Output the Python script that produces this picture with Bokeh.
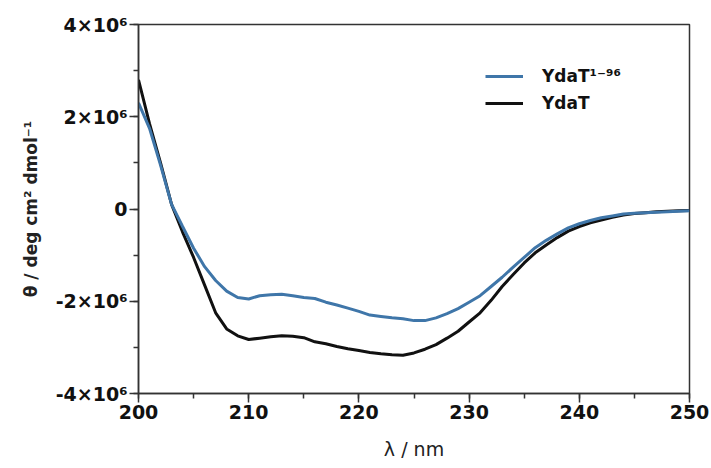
from bokeh.plotting import figure
from bokeh.models import Legend, LegendItem, FixedTicker, Range1d
from bokeh.embed import file_html
from bokeh.resources import INLINE

wavelength = list(range(200, 251))

ydat_1_96 = [2.30, 1.75, 0.95, 0.10, -0.38, -0.85, -1.25, -1.55, -1.78, -1.92,
             -1.95, -1.88, -1.86, -1.85, -1.88, -1.92, -1.94, -2.02, -2.08, -2.15,
             -2.22, -2.30, -2.33, -2.36, -2.38, -2.42, -2.42, -2.36, -2.27, -2.16,
             -2.02, -1.88, -1.68, -1.48, -1.26, -1.05, -0.84, -0.68, -0.54, -0.41,
             -0.32, -0.25, -0.19, -0.15, -0.11, -0.09, -0.08, -0.07, -0.06, -0.05,
             -0.04]

ydat_full = [2.80, 1.85, 1.00, 0.10, -0.50, -1.05, -1.65, -2.25, -2.60, -2.75,
             -2.83, -2.80, -2.77, -2.75, -2.76, -2.79, -2.88, -2.92, -2.98, -3.03,
             -3.07, -3.11, -3.14, -3.16, -3.17, -3.12, -3.04, -2.94, -2.80, -2.65,
             -2.45, -2.25, -1.98, -1.68, -1.42, -1.17, -0.95, -0.78, -0.62, -0.48,
             -0.38, -0.30, -0.24, -0.18, -0.13, -0.10, -0.08, -0.06, -0.05, -0.04,
             -0.03]

series_names = ["YdaT¹⁻⁹⁶", "YdaT"]
x_ticks = [200, 210, 220, 230, 240, 250]
y_ticks = [-4e6, -2e6, 0, 2e6, 4e6]
y_tick_labels = ["-4×10⁶", "-2×10⁶", "0", "2×10⁶", "4×10⁶"]

scale = 1e6
y1 = [v * scale for v in ydat_1_96]
y2 = [v * scale for v in ydat_full]

p = figure(width=711, height=468, output_backend="svg", toolbar_location=None,
           x_range=Range1d(200, 250), y_range=Range1d(-4e6, 4e6),
           min_border_left=138, min_border_right=22, min_border_top=24,
           min_border_bottom=75)

p.grid.visible = False
p.outline_line_color = "#333333"
p.outline_line_width = 1.5
p.background_fill_color = "white"
p.border_fill_color = "white"

r_black = p.line(wavelength, y2, line_color="#111111", line_width=3)
r_blue = p.line(wavelength, y1, line_color="#3f76a9", line_width=3)

font = "DejaVu Sans"
for ax in (p.xaxis[0], p.yaxis[0]):
    ax.axis_line_color = "#333333"
    ax.axis_line_width = 1.5
    ax.major_tick_line_color = "#333333"
    ax.minor_tick_line_color = "#333333"
    ax.major_tick_line_width = 1.5
    ax.minor_tick_line_width = 1.5
    ax.major_tick_out = 9
    ax.major_tick_in = 0
    ax.minor_tick_out = 5
    ax.minor_tick_in = 0
    ax.major_label_text_font = font
    ax.major_label_text_font_style = "bold"
    ax.major_label_text_font_size = "19px"
    ax.major_label_text_color = "#111111"
    ax.axis_label_text_font = font
    ax.axis_label_text_color = "#222222"

p.xaxis[0].ticker = FixedTicker(ticks=x_ticks, minor_ticks=list(range(200, 251, 5)))
p.yaxis[0].ticker = FixedTicker(ticks=y_ticks, minor_ticks=[v * scale for v in range(-4, 5)])
p.yaxis[0].major_label_overrides = {float(t): s for t, s in zip(y_ticks, y_tick_labels)}
p.xaxis[0].major_label_standoff = 2
p.yaxis[0].major_label_standoff = 2
p.xaxis[0].axis_label = "λ / nm"
p.xaxis[0].axis_label_text_font_style = "normal"
p.xaxis[0].axis_label_text_font_size = "19px"
p.xaxis[0].axis_label_standoff = 16
p.yaxis[0].axis_label = "θ / deg cm² dmol⁻¹"
p.yaxis[0].axis_label_text_font_style = "bold"
p.yaxis[0].axis_label_text_font_size = "17px"
p.yaxis[0].axis_label_standoff = 12

legend = Legend(items=[LegendItem(label=series_names[0], renderers=[r_blue]),
                       LegendItem(label=series_names[1], renderers=[r_black])],
                location=(347, 280), border_line_color=None,
                background_fill_alpha=0, padding=0, margin=0,
                glyph_width=38, glyph_height=20, label_height=20,
                label_standoff=19, spacing=7,
                label_text_font=font, label_text_font_style="bold",
                label_text_font_size="17px", label_text_color="#111111")
p.add_layout(legend)

open("out.html", "w").write(file_html(p, INLINE))
